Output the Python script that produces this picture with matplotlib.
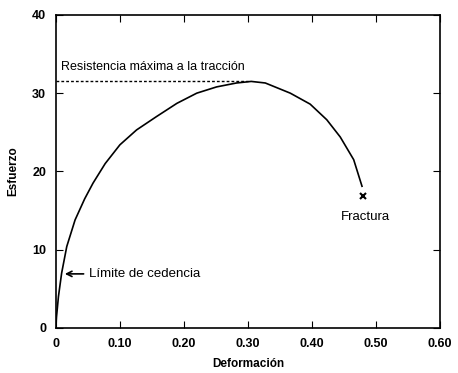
import matplotlib.pyplot as plt

# curva esfuerzo-deformacion
deformacion = [0.0, 0.001, 0.004, 0.009, 0.017, 0.030, 0.045, 0.058, 0.077, 0.100,
               0.126, 0.157, 0.189, 0.220, 0.251, 0.282, 0.305, 0.327, 0.366, 0.397,
               0.423, 0.444, 0.465, 0.478]
esfuerzo = [0.0, 1.4, 4.0, 7.0, 10.4, 13.8, 16.5, 18.5, 21.0, 23.4,
            25.3, 27.0, 28.7, 30.0, 30.8, 31.3, 31.5, 31.3, 30.0, 28.6,
            26.6, 24.4, 21.5, 18.1]

resistencia_max = 31.5
fractura = (0.480, 16.8)
cedencia = (0.014, 6.9)

xticks = [0, 0.1, 0.2, 0.3, 0.4, 0.5, 0.6]
xlabels = ['0', '0.10', '0.20', '0.30', '0.40', '0.50', '0.60']
yticks = [0, 10, 20, 30, 40]

plt.rcParams['font.family'] = ['Liberation Sans', 'DejaVu Sans']

fig = plt.figure(figsize=(4.58, 3.73), dpi=100)
ax = fig.add_axes([0.122, 0.121, 0.839, 0.839])

ax.plot(deformacion, esfuerzo, color='black', lw=1.2)
ax.plot([0, 0.30], [resistencia_max, resistencia_max], color='black', lw=1, ls=(0, (2, 1.5)))
ax.text(0.008, 32.9, 'Resistencia máxima a la tracción', fontsize=9)

ax.plot(fractura[0], fractura[1], marker='x', color='black', ms=5, mew=1.5)
ax.text(0.483, 14.2, 'Fractura', fontsize=9.5, ha='center', va='center')

ax.annotate('Límite de cedencia', xy=cedencia, xytext=(0.052, cedencia[1]),
            fontsize=9.5, va='center',
            arrowprops=dict(arrowstyle='->', color='black', lw=1.2, shrinkA=2, shrinkB=0))

ax.set_xlim(0, 0.6)
ax.set_ylim(0, 40)
ax.set_xticks(xticks)
ax.set_xticklabels(xlabels)
ax.set_yticks(yticks)
ax.tick_params(direction='in', top=True, right=True, length=5, labelsize=9, pad=7)
for lab in ax.get_xticklabels() + ax.get_yticklabels():
    lab.set_fontweight('bold')
for s in ax.spines.values():
    s.set_linewidth(1.2)
ax.set_xlabel('Deformación', fontsize=8.5, fontweight='bold', labelpad=6)
ax.set_ylabel('Esfuerzo', fontsize=8.5, fontweight='bold', labelpad=9)

fig.savefig('out.png', dpi=100)
